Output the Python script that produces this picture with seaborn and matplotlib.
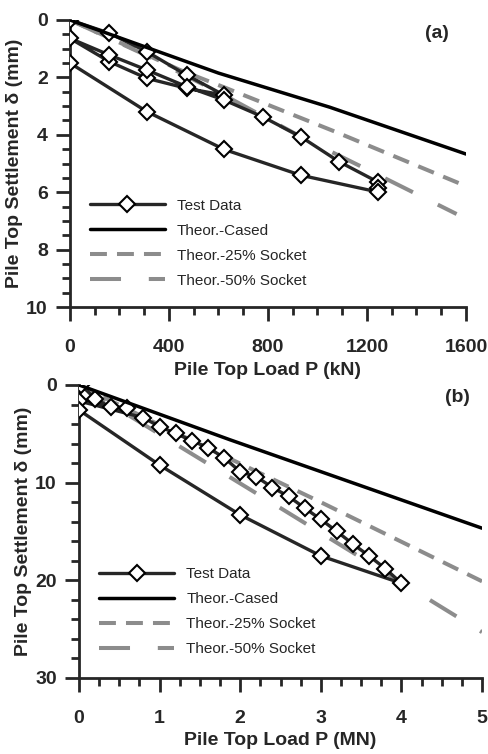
import numpy as np
import pandas as pd
import matplotlib
matplotlib.use("Agg")
import matplotlib.pyplot as plt
import seaborn as sns

# ---- panel (a) data, load in kN, settlement in mm ----
a_test_load = [0, 159, 310, 471, 623, 471, 310, 159, 0, 159, 310, 471, 623,
               778, 933, 1088, 1243, 1243, 1243, 933, 623, 310, 0]
a_test_settle = [0, 0.46, 1.10, 1.92, 2.62, 2.38, 2.03, 1.45, 0.64, 1.22, 1.74,
                 2.32, 2.79, 3.37, 4.07, 4.94, 5.64, 5.87, 5.99, 5.41, 4.51, 3.19, 1.50]
a_cased_load = [0, 600, 1050, 1600]
a_cased_settle = [0, 1.85, 3.04, 4.67]
a_s25_load = [0, 444, 633, 1071, 1570]
a_s25_settle = [0, 1.74, 2.38, 3.89, 5.68]
a_s50_load = [0, 300, 623, 933, 1246, 1562]
a_s50_settle = [0, 1.20, 2.62, 4.07, 5.40, 6.76]

# ---- panel (b) data, load in MN, settlement in mm ----
b_test_load = [0.03, 0.2, 0.4, 0.6, 0, 0.8, 1.0, 1.2, 1.4, 1.6, 1.8, 2.0, 2.2, 2.4,
               2.6, 2.8, 3.0, 3.2, 3.4, 3.6, 3.8, 4.0, 3.0, 2.0, 1.0, 0]
b_test_settle = [0, 1.43, 2.29, 2.39, 1.64, 3.35, 4.27, 4.95, 5.70, 6.42, 7.44,
                 8.88, 9.39, 10.5, 11.4, 12.6, 13.76, 15.0, 16.3, 17.5, 18.8, 20.3,
                 17.5, 13.3, 8.2, 2.56]
b_cased_load = [0, 1.87, 5]
b_cased_settle = [0, 5.6, 14.66]
b_s25_load = [0, 1.0, 3.0, 5.0]
b_s25_settle = [0, 4.1, 12.0, 20.1]
b_s50_load = [0, 2.5, 5.0]
b_s50_settle = [0, 12.6, 25.3]

legend_labels = ["Test Data", "Theor.-Cased", "Theor.-25% Socket", "Theor.-50% Socket"]

sns.set_style("ticks")
plt.rcParams['font.family'] = ['Liberation Sans', 'DejaVu Sans']

fig = plt.figure(figsize=(4.88, 7.54), dpi=100)
ax_a = fig.add_axes([0.1434, 0.5928, 0.8115, 0.3807])
ax_b = fig.add_axes([0.1619, 0.1008, 0.8258, 0.3886])

gray = "#8c8c8c"


def draw_panel(ax, test, cased, s25, s50):
    df = pd.DataFrame({"P": test[0], "d": test[1]})
    sns.lineplot(data=df, x="P", y="d", ax=ax, sort=False, estimator=None,
                 color="#262626", lw=2.4, marker="D", markersize=8,
                 markerfacecolor="white", markeredgecolor="black",
                 markeredgewidth=1.5, label=legend_labels[0], zorder=3)
    sns.lineplot(x=cased[0], y=cased[1], ax=ax, color="black", lw=2.5,
                 label=legend_labels[1], zorder=4)
    sns.lineplot(x=s25[0], y=s25[1], ax=ax, color=gray, lw=2.9,
                 linestyle=(0, (4.2, 2.5)), label=legend_labels[2], zorder=2)
    sns.lineplot(x=s50[0], y=s50[1], ax=ax, color=gray, lw=2.9,
                 linestyle=(0, (7.7, 6.9)), label=legend_labels[3], zorder=2)
    sns.despine(ax=ax)
    for side in ["left", "bottom"]:
        ax.spines[side].set_linewidth(2.0)
    ax.tick_params(which="major", direction="out", length=10, width=2.0,
                   labelsize=14)
    ax.tick_params(which="minor", direction="out", length=6, width=2.0)
    ax.tick_params(axis="x", which="major", pad=13)
    ax.tick_params(axis="y", which="major", pad=6)
    ax.set_ylabel("Pile Top Settlement δ (mm)", fontsize=14, fontweight="bold",
                  labelpad=2)
    ax.legend(loc="upper left", bbox_to_anchor=(0.05, 0.378), frameon=False,
              fontsize=11, handlelength=4.9, handletextpad=0.8,
              labelspacing=0.72, borderpad=0, borderaxespad=0, numpoints=1)


draw_panel(ax_a, (a_test_load, a_test_settle), (a_cased_load, a_cased_settle),
           (a_s25_load, a_s25_settle), (a_s50_load, a_s50_settle))
ax_a.set_xlim(0, 1600)
ax_a.set_ylim(10, 0)
ax_a.set_xticks([0, 400, 800, 1200, 1600])
ax_a.set_xticks(np.arange(0, 1601, 100), minor=True)
ax_a.set_yticks([0, 2, 4, 6, 8, 10])
ax_a.set_yticks(np.arange(0, 10.01, 0.5), minor=True)
ax_a.set_xlabel("Pile Top Load P (kN)", fontsize=14, fontweight="bold", labelpad=4)
ax_a.text(1483, 0.46, "(a)", fontsize=14, fontweight="bold", ha="center", va="center")

draw_panel(ax_b, (b_test_load, b_test_settle), (b_cased_load, b_cased_settle),
           (b_s25_load, b_s25_settle), (b_s50_load, b_s50_settle))
ax_b.set_xlim(0, 5)
ax_b.set_ylim(30, 0)
ax_b.set_xticks([0, 1, 2, 3, 4, 5])
ax_b.set_xticks(np.arange(0, 5.01, 0.25), minor=True)
ax_b.set_yticks([0, 10, 20, 30])
ax_b.set_yticks(np.arange(0, 30.01, 2), minor=True)
ax_b.set_xlabel("Pile Top Load P (MN)", fontsize=14, fontweight="bold", labelpad=4)
ax_b.text(4.69, 1.33, "(b)", fontsize=14, fontweight="bold", ha="center", va="center")

for ax in (ax_a, ax_b):
    for lbl in ax.get_xticklabels() + ax.get_yticklabels():
        lbl.set_fontweight("bold")

fig.savefig("out.png", dpi=100)
